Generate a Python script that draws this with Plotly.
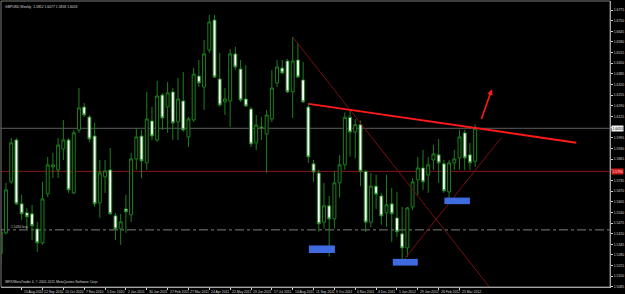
import plotly.graph_objects as go

# ---- data (GBPUSD weekly, one candle per week starting 18 Jul 2010) ----
weeks = list(range(92))
opens = [1.5290, 1.5415, 1.5726, 1.5982, 1.5592, 1.5537, 1.5531, 1.5439, 1.5354, 1.5653,
         1.5817, 1.5799, 1.5927, 1.5982, 1.5659, 1.6043, 1.6183, 1.6122, 1.6006, 1.5598,
         1.5757, 1.5799, 1.5519, 1.5439, 1.5561, 1.5525, 1.5866, 1.6006, 1.5842, 1.6098,
         1.5982, 1.6256, 1.6183, 1.6275, 1.6092, 1.6220, 1.6000, 1.6104, 1.6372, 1.6305,
         1.6531, 1.6714, 1.6354, 1.6214, 1.6220, 1.6507, 1.6415, 1.6232, 1.6171, 1.5964,
         1.6061, 1.6018, 1.6110, 1.6330, 1.6421, 1.6464, 1.6275, 1.6470, 1.6348, 1.6183,
         1.5836, 1.5780, 1.5480, 1.5580, 1.5500, 1.5720, 1.5830, 1.6120, 1.6030, 1.6075,
         1.5790, 1.5480, 1.5700, 1.5640, 1.5537, 1.5592, 1.5506, 1.5409, 1.5323, 1.5573,
         1.5738, 1.5811, 1.5768, 1.5860, 1.5891, 1.5836, 1.5665, 1.5842, 1.5872, 1.6025,
         1.5891, 1.5852]
highs = [1.5450, 1.5720, 1.5994, 1.5994, 1.5647, 1.5567, 1.5586, 1.5482, 1.5726, 1.5878,
         1.5903, 1.5994, 1.6104, 1.5994, 1.6043, 1.6299, 1.6208, 1.6134, 1.6086, 1.5860,
         1.5860, 1.5933, 1.5537, 1.5531, 1.5647, 1.5903, 1.6055, 1.6043, 1.6275, 1.6183,
         1.6342, 1.6269, 1.6336, 1.6299, 1.6360, 1.6397, 1.6122, 1.6421, 1.6470, 1.6592,
         1.6745, 1.6745, 1.6513, 1.6299, 1.6537, 1.6549, 1.6470, 1.6439, 1.6183, 1.6134,
         1.6122, 1.6165, 1.6409, 1.6470, 1.6470, 1.6476, 1.6610, 1.6574, 1.6458, 1.6208,
         1.5860, 1.5800, 1.5720, 1.5640, 1.5790, 1.5890, 1.6150, 1.6166, 1.6110, 1.6100,
         1.5800, 1.5780, 1.5770, 1.5659, 1.5768, 1.5689, 1.5665, 1.5573, 1.5573, 1.5750,
         1.5878, 1.5921, 1.5878, 1.5952, 1.5988, 1.5860, 1.5860, 1.5921, 1.6043, 1.6043,
         1.5964, 1.6077]
lows = [1.5230, 1.5405, 1.5715, 1.5586, 1.5494, 1.5433, 1.5372, 1.5299, 1.5342, 1.5634,
        1.5750, 1.5750, 1.5860, 1.5659, 1.5650, 1.6025, 1.6122, 1.5970, 1.5573, 1.5506,
        1.5659, 1.5525, 1.5372, 1.5342, 1.5415, 1.5482, 1.5799, 1.5750, 1.5799, 1.5982,
        1.5970, 1.6043, 1.6025, 1.5982, 1.5982, 1.6031, 1.5939, 1.6092, 1.6305, 1.6165,
        1.6513, 1.6360, 1.6183, 1.6134, 1.6061, 1.6409, 1.6214, 1.6183, 1.5939, 1.5921,
        1.5982, 1.5781, 1.6092, 1.6305, 1.6385, 1.6269, 1.6116, 1.6360, 1.6208, 1.5842,
        1.5726, 1.5423, 1.5440, 1.5271, 1.5440, 1.5630, 1.5800, 1.5880, 1.5870, 1.5700,
        1.5420, 1.5450, 1.5560, 1.5464, 1.5451, 1.5360, 1.5390, 1.5238, 1.5268, 1.5555,
        1.5646, 1.5677, 1.5659, 1.5799, 1.5720, 1.5659, 1.5604, 1.5799, 1.5799, 1.5799,
        1.5799, 1.5818]
closes = [1.5420, 1.5677, 1.5964, 1.5592, 1.5531, 1.5513, 1.5458, 1.5354, 1.5622, 1.5830,
          1.5830, 1.5951, 1.5982, 1.5677, 1.6025, 1.6177, 1.6134, 1.5988, 1.5592, 1.5781,
          1.5793, 1.5531, 1.5439, 1.5482, 1.5543, 1.5866, 1.6000, 1.5854, 1.6110, 1.6006,
          1.6250, 1.6116, 1.6269, 1.6086, 1.6232, 1.6043, 1.6110, 1.6384, 1.6330, 1.6507,
          1.6702, 1.6366, 1.6195, 1.6232, 1.6507, 1.6427, 1.6226, 1.6189, 1.5957, 1.6073,
          1.6055, 1.6134, 1.6299, 1.6427, 1.6391, 1.6275, 1.6464, 1.6366, 1.6214, 1.5878,
          1.5787, 1.5470, 1.5580, 1.5500, 1.5720, 1.5830, 1.6120, 1.6030, 1.6075, 1.5790,
          1.5480, 1.5700, 1.5650, 1.5518, 1.5586, 1.5531, 1.5421, 1.5323, 1.5567, 1.5726,
          1.5811, 1.5726, 1.5830, 1.5897, 1.5842, 1.5671, 1.5842, 1.5866, 1.6000, 1.5872,
          1.5842, 1.6053]

date_label_weeks = [0, 4, 8, 12, 16, 20, 24, 28, 32, 36, 40, 44, 48, 52, 56, 60, 64, 68, 72, 76, 80, 84, 88]
date_labels = ["18 Jul 2010", "15 Aug 2010", "12 Sep 2010", "10 Oct 2010", "7 Nov 2010", "5 Dec 2010",
               "2 Jan 2011", "30 Jan 2011", "27 Feb 2011", "27 Mar 2011", "24 Apr 2011", "22 May 2011",
               "19 Jun 2011", "17 Jul 2011", "14 Aug 2011", "11 Sep 2011", "9 Oct 2011", "6 Nov 2011",
               "4 Dec 2011", "1 Jan 2012", "29 Jan 2012", "26 Feb 2012", "25 Mar 2012"]

price_ticks = [1.5085, 1.5150, 1.5215, 1.5280, 1.5345, 1.5410, 1.5475, 1.5540, 1.5605, 1.5670,
               1.5735, 1.5800, 1.5865, 1.5930, 1.5995, 1.6060, 1.6125, 1.6190, 1.6255, 1.6320,
               1.6385, 1.6450, 1.6515, 1.6580, 1.6645, 1.6710, 1.6775]
# the two ticks hidden under the highlighted price boxes carry no text
price_tick_text = ["1.5085", "1.5150", "1.5215", "1.5280", "1.5345", "1.5410", "1.5475", "1.5540",
                   "1.5605", "1.5670", "1.5735", "", "1.5865", "1.5930", "1.5995", "", "1.6125",
                   "1.6190", "1.6255", "1.6320", "1.6385", "1.6450", "1.6515", "1.6580", "1.6645",
                   "1.6710", "1.6775"]

bid_price = 1.6053
red_level = 1.5790
order_level = 1.5433

# trend lines (week index, price)
main_trend = [(59.1, 1.6202), (110.4, 1.5965)]
down_ray = [(56.0, 1.6610), (96.0, 1.4993)]
up_ray = [(77.0, 1.5238), (96.0, 1.5995)]
arrow_tail = (92.1, 1.6100)
arrow_head = (94.2, 1.6291)

# support boxes (week0, week1, price_low, price_high)
boxes = [(59.1, 64.1, 1.5292, 1.5338),
         (75.2, 80.0, 1.5215, 1.5256),
         (85.1, 90.0, 1.5590, 1.5630)]

title_text = "GBPUSD,Weekly  1.5852 1.6077 1.5818 1.6053"
copyright_text = "IBFX/MetaTrader 4, \u00a9 2001-2011 MetaQuotes Software Corp."

# ---- figure ----
GREEN = "#1c801c"
FONT = "Liberation Sans"
FS = 3.4

fig = go.Figure()
fig.add_trace(go.Candlestick(
    x=weeks, open=opens, high=highs, low=lows, close=closes,
    increasing=dict(line=dict(color=GREEN, width=1), fillcolor="#000000"),
    decreasing=dict(line=dict(color=GREEN, width=1), fillcolor="#ffffff"),
    whiskerwidth=0, showlegend=False, hoverinfo="skip"))

shapes = []
shapes.append(dict(type="line", xref="paper", x0=0, x1=1, yref="y", y0=bid_price, y1=bid_price,
                   line=dict(color="#5e5e5e", width=1), layer="below"))
shapes.append(dict(type="line", xref="paper", x0=0, x1=1, yref="y", y0=red_level, y1=red_level,
                   line=dict(color="#8a1414", width=1), layer="below"))
shapes.append(dict(type="line", xref="paper", x0=0, x1=1, yref="y", y0=order_level, y1=order_level,
                   line=dict(color="#7d7d7d", width=1, dash="dashdot"), layer="below"))
for seg in (down_ray, up_ray):
    shapes.append(dict(type="line", xref="x", yref="y", x0=seg[0][0], y0=seg[0][1], x1=seg[1][0], y1=seg[1][1],
                       line=dict(color="#7a0f0f", width=1), layer="above"))
shapes.append(dict(type="line", xref="x", yref="y", x0=main_trend[0][0], y0=main_trend[0][1],
                   x1=main_trend[1][0], y1=main_trend[1][1], line=dict(color="#ff1a1a", width=2), layer="above"))
for b in boxes:
    shapes.append(dict(type="rect", xref="x", yref="y", x0=b[0], x1=b[1], y0=b[2], y1=b[3],
                       fillcolor="#3f6be0", line=dict(width=0), layer="above"))
shapes.append(dict(type="rect", xref="paper", yref="paper", x0=0, x1=1, y0=0, y1=1,
                   line=dict(color="#7a7a7a", width=1), layer="above"))

annotations = []
annotations.append(dict(x=arrow_head[0], y=arrow_head[1], ax=arrow_tail[0], ay=arrow_tail[1],
                        xref="x", yref="y", axref="x", ayref="y", text="", showarrow=True,
                        arrowhead=2, arrowsize=0.7, arrowwidth=1.6, arrowcolor="#ff1a1a"))
annotations.append(dict(x=0.003, y=0.994, xref="paper", yref="paper", xanchor="left", yanchor="top",
                        text=title_text, showarrow=False, font=dict(family=FONT, size=FS, color="#d8d8d8")))
annotations.append(dict(x=0.003, y=0.004, xref="paper", yref="paper", xanchor="left", yanchor="bottom",
                        text=copyright_text, showarrow=False, font=dict(family=FONT, size=FS, color="#d8d8d8")))
annotations.append(dict(x=1.0, y=order_level, xref="x", yref="y", xanchor="left", yanchor="bottom",
                        text="1.5434 buy", showarrow=False, xshift=3, yshift=-1,
                        font=dict(family=FONT, size=FS, color="#bdbdbd")))
for w, lab in zip(date_label_weeks, date_labels):
    annotations.append(dict(x=w, y=0, xref="x", yref="paper", xanchor="left", yanchor="top",
                            text=lab, showarrow=False, xshift=0, yshift=-1,
                            font=dict(family=FONT, size=FS, color="#d8d8d8")))
annotations.append(dict(x=1, y=bid_price, xref="paper", yref="y", xanchor="left", yanchor="middle",
                        text="1.6053", showarrow=False, xshift=1, bgcolor="#f0f0f0", borderpad=0.5,
                        font=dict(family=FONT, size=FS, color="#000000")))
annotations.append(dict(x=1, y=red_level, xref="paper", yref="y", xanchor="left", yanchor="middle",
                        text="1.5790", showarrow=False, xshift=1, bgcolor="#d01c1c", borderpad=0.5,
                        font=dict(family=FONT, size=FS, color="#ffdede")))

fig.update_layout(
    width=625, height=294, autosize=False,
    margin=dict(l=1, r=13, t=1, b=7, pad=0),
    paper_bgcolor="#000000", plot_bgcolor="#000000",
    shapes=shapes, annotations=annotations,
    xaxis=dict(range=[0.04, 116.87], showgrid=False, zeroline=False, rangeslider=dict(visible=False),
               showline=True, linecolor="#d0d0d0", linewidth=1,
               tickmode="array", tickvals=date_label_weeks, showticklabels=False,
               ticks="outside", ticklen=2, tickcolor="#d0d0d0"),
    yaxis=dict(range=[1.50844, 1.68299], side="right", showgrid=False, zeroline=False,
               showline=True, linecolor="#d0d0d0", linewidth=1,
               tickmode="array", tickvals=price_ticks, ticktext=price_tick_text,
               ticks="outside", ticklen=2, tickcolor="#d0d0d0",
               tickfont=dict(family=FONT, size=FS, color="#d8d8d8")),
    boxgap=0.25, boxgroupgap=0.25,
    hovermode=False,
)

fig.write_html("out.html")
